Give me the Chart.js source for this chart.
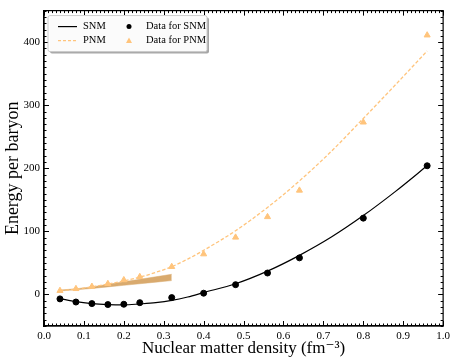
<!DOCTYPE html>
<html>
<head>
<meta charset="utf-8">
<script src="https://cdn.jsdelivr.net/npm/chart.js@4"></script>
<style>
  body { margin: 0; background: #fff; }
  #wrap { width: 454px; height: 359px; }
</style>
</head>
<body>
<div id="wrap"><canvas id="eosChart" width="454" height="359"></canvas></div>
<script>
// densities of the data points (fm^-3)
var densData = [0.04, 0.08, 0.12, 0.16, 0.20, 0.24, 0.32, 0.40, 0.48, 0.56, 0.64, 0.80, 0.96];
var snmData = [-7, -12, -14.5, -16, -15.5, -13, -5, 2, 15.5, 34, 58, 121, 204];
var pnmData = [6, 9, 12.5, 17, 23, 28, 44, 64, 90.5, 123, 165, 273, 411];

// fitted curves
var densFit = [0.04, 0.08, 0.12, 0.16, 0.20, 0.24, 0.28, 0.32, 0.36, 0.40, 0.48, 0.56, 0.64, 0.72, 0.80, 0.88, 0.96];
var snmFit = [-6.5, -11.5, -14.5, -16, -16.5, -15, -13, -9.5, -4, 3, 17, 37, 62, 91, 125, 163, 204];
var pnmFit = [6, 8.5, 12, 16.5, 21.5, 27.5, 35, 44, 56, 70, 101, 138, 180, 227, 279, 332, 386];

// low density band
var densBand = [0.04, 0.08, 0.12, 0.16, 0.20, 0.24, 0.28, 0.32];
var bandLow = [5.5, 7.5, 9.5, 12, 14.5, 17, 19.5, 22];
var bandHigh = [7, 9, 12, 16, 20, 24, 28, 32];

var xTicks = [0, 0.1, 0.2, 0.3, 0.4, 0.5, 0.6, 0.7, 0.8, 0.9, 1.0];
var yTicks = [0, 100, 200, 300, 400];

var pnmColor = '#ffc47c';
var bandColor = '#d9aa6e';
var serif = '"Liberation Serif", "DejaVu Serif", serif';

function pts(xs, ys) {
  return xs.map(function (x, i) { return { x: x, y: ys[i] }; });
}

// inward ticks on all four sides + box
var innerTicks = {
  id: 'innerTicks',
  afterDraw: function (chart) {
    var ctx = chart.ctx, a = chart.chartArea;
    var xs = chart.scales.x, ys = chart.scales.y;
    ctx.save();
    ctx.strokeStyle = '#000';
    ctx.lineWidth = 1;
    ctx.beginPath();
    var v, p, len;
    for (var i = 0; i <= 100; i++) {
      v = i / 100;
      p = Math.round(xs.getPixelForValue(v)) + 0.5;
      len = (i % 10 === 0) ? 5 : 2.5;
      ctx.moveTo(p, a.bottom); ctx.lineTo(p, a.bottom - len);
      ctx.moveTo(p, a.top); ctx.lineTo(p, a.top + len);
    }
    for (v = -50; v <= 450; v += 10) {
      p = Math.round(ys.getPixelForValue(v)) + 0.5;
      len = (v % 100 === 0) ? 5 : 2.5;
      ctx.moveTo(a.left, p); ctx.lineTo(a.left + len, p);
      ctx.moveTo(a.right, p); ctx.lineTo(a.right - len, p);
    }
    ctx.stroke();
    ctx.lineWidth = 1.2;
    ctx.strokeRect(a.left, a.top, a.right - a.left, a.bottom - a.top);
    ctx.restore();
  }
};

// matplotlib-like legend box in upper left corner
var boxLegend = {
  id: 'boxLegend',
  afterDraw: function (chart) {
    var ctx = chart.ctx, a = chart.chartArea;
    var bx = a.left + 4, by = a.top + 5, bw = 159, bh = 36;
    ctx.save();
    ctx.fillStyle = 'rgba(0,0,0,0.35)';
    ctx.beginPath();
    ctx.roundRect(bx + 2, by + 2, bw, bh, 2);
    ctx.fill();
    ctx.fillStyle = 'rgba(255,255,255,0.95)';
    ctx.strokeStyle = '#cccccc';
    ctx.lineWidth = 1;
    ctx.beginPath();
    ctx.roundRect(bx, by, bw, bh, 2);
    ctx.fill();
    ctx.stroke();

    ctx.font = '10.5px ' + serif;
    ctx.textBaseline = 'middle';
    ctx.fillStyle = '#000';
    var r1 = by + 11, r2 = by + 25;
    // SNM line
    ctx.strokeStyle = '#000';
    ctx.lineWidth = 1.2;
    ctx.beginPath(); ctx.moveTo(bx + 10, r1); ctx.lineTo(bx + 29, r1); ctx.stroke();
    ctx.fillText('SNM', bx + 35, r1);
    // PNM dashed
    ctx.strokeStyle = pnmColor;
    ctx.setLineDash([3, 2]);
    ctx.beginPath(); ctx.moveTo(bx + 10, r2); ctx.lineTo(bx + 29, r2); ctx.stroke();
    ctx.setLineDash([]);
    ctx.fillStyle = '#000';
    ctx.fillText('PNM', bx + 35, r2);
    // markers
    ctx.beginPath(); ctx.arc(bx + 81, r1, 2.5, 0, Math.PI * 2); ctx.fill();
    ctx.fillText('Data for SNM', bx + 98, r1);
    ctx.fillStyle = pnmColor;
    ctx.beginPath();
    ctx.moveTo(bx + 81, r2 - 3); ctx.lineTo(bx + 84, r2 + 2.5); ctx.lineTo(bx + 78, r2 + 2.5);
    ctx.closePath(); ctx.fill();
    ctx.fillStyle = '#000';
    ctx.fillText('Data for PNM', bx + 98, r2);
    ctx.restore();
  }
};

var ctx = document.getElementById('eosChart').getContext('2d');
var eosChart = new Chart(ctx, {
  type: 'scatter',
  data: {
    datasets: [
      { label: 'band low', type: 'line', data: pts(densBand, bandLow), borderColor: bandColor,
        borderWidth: 0.5, pointRadius: 0, fill: false, order: 5 },
      { label: 'band high', type: 'line', data: pts(densBand, bandHigh), borderColor: bandColor,
        borderWidth: 0.5, pointRadius: 0, fill: '-1', backgroundColor: bandColor, order: 5 },
      { label: 'SNM', type: 'line', data: pts(densFit, snmFit), borderColor: '#000',
        borderWidth: 1.2, pointRadius: 0, cubicInterpolationMode: 'monotone', fill: false, order: 3 },
      { label: 'PNM', type: 'line', data: pts(densFit, pnmFit), borderColor: pnmColor,
        borderWidth: 1.3, borderDash: [3.5, 2], pointRadius: 0, cubicInterpolationMode: 'monotone', fill: false, order: 3 },
      { label: 'Data for SNM', data: pts(densData, snmData), backgroundColor: '#000', borderColor: '#000',
        pointRadius: 3, pointStyle: 'circle', order: 1 },
      { label: 'Data for PNM', data: pts(densData, pnmData), backgroundColor: pnmColor, borderColor: pnmColor,
        pointRadius: 3.5, pointStyle: 'triangle', order: 1 }
    ]
  },
  options: {
    responsive: false,
    animation: false,
    layout: { padding: { top: 7, right: 8, left: 2, bottom: 0 } },
    plugins: { legend: { display: false }, tooltip: { enabled: false } },
    scales: {
      x: {
        type: 'linear', min: 0, max: 1,
        grid: { display: false, drawTicks: false },
        border: { display: true, color: '#000', width: 1.2 },
        afterBuildTicks: function (s) { s.ticks = xTicks.map(function (v) { return { value: v }; }); },
        afterFit: function (s) { s.height = 33; },
        ticks: { color: '#000', padding: 4, maxRotation: 0, font: { family: serif, size: 11 },
          callback: function (v) { return Number(v).toFixed(1); } },
        title: { display: true, text: 'Nuclear matter density (fm\u207B\u00B3)', color: '#000',
          font: { family: serif, size: 17 }, padding: { top: 0, bottom: 0 } }
      },
      y: {
        type: 'linear', min: -50, max: 450,
        grid: { display: false, drawTicks: false },
        border: { display: true, color: '#000', width: 1.2 },
        afterBuildTicks: function (s) { s.ticks = yTicks.map(function (v) { return { value: v }; }); },
        afterFit: function (s) { s.width = 42; },
        ticks: { color: '#000', padding: 4, font: { family: serif, size: 11 } },
        title: { display: true, text: 'Energy per baryon', color: '#000',
          font: { family: serif, size: 18 }, padding: { top: 0, bottom: 0 } }
      }
    }
  },
  plugins: [innerTicks, boxLegend]
});
</script>
</body>
</html>
